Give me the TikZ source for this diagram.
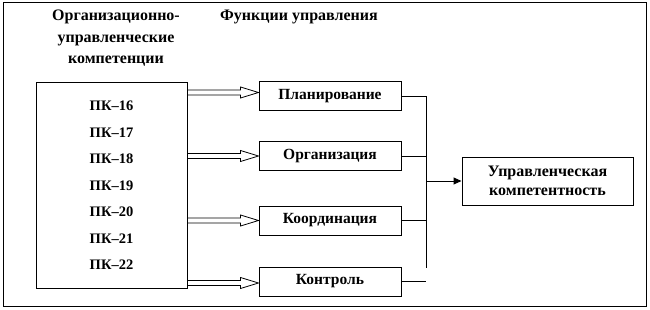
\documentclass[tikz,border=0pt]{standalone}
\usepackage{fontspec}
\setmainfont{Liberation Serif}[BoldFont={Liberation Serif Bold}]
\usetikzlibrary{positioning, calc, arrows.meta}

% hollow block arrow from #1 to #2 (same height)
\newcommand{\hollowarrow}[2]{%
  \draw[line width=0.8pt] let \p1=(#1), \p2=(#2) in
    (\x1,\y1+2.5pt) -- (\x2-18pt,\y1+2.5pt) -- (\x2-18pt,\y1+5.5pt) -- (\x2,\y1)
    -- (\x2-18pt,\y1-5.5pt) -- (\x2-18pt,\y1-2.5pt) -- (\x1,\y1-2.5pt);}

\begin{document}
\begin{tikzpicture}[
    x=1pt, y=-1pt,
    line width=1pt,
    box/.style={rectangle, draw, fill=white, inner sep=0pt, font=\bfseries\fontsize{15.5}{16}\selectfont},
    funcbox/.style={box, minimum width=142pt, minimum height=29pt},
    head/.style={font=\bfseries\fontsize{16}{21.5}\selectfont, align=center},
    line/.style={-, line width=1pt},
    arrow/.style={-{Triangle[length=8pt, width=7pt]}, line width=1pt}
]
\useasboundingbox (0,0) rectangle (650,310);
\draw (3,3) rectangle (646,306);

% Headings
\node[head] (hcomp) at (116,38.5) {Организационно-\\управленческие\\компетенции};
\node[head] (hfunc) at (299,17) {Функции управления};

% Competences
\node[box, minimum width=151pt, minimum height=205pt, align=center,
      font=\bfseries\fontsize{14.5}{26.5}\selectfont] (comp) at (111.5,185.5)
      {ПК–16\\ПК–17\\ПК–18\\ПК–19\\ПК–20\\ПК–21\\ПК–22};

% Management functions
\node[funcbox] (plan) at (330,96.5) {Планирование};
\node[funcbox, below=29.5pt of plan] (org) {Организация};
\node[funcbox, below=34.5pt of org] (coord) {Координация};
\node[funcbox, below=31pt of coord] (ctrl) {Контроль};

% Result
\node[box, minimum width=171pt, minimum height=48pt, align=center,
      font=\bfseries\fontsize{16}{19}\selectfont] (res) at (547.5,181)
      {Управленческая\\компетентность};

% Block arrows
\coordinate (a1) at ($(plan.west)+(0,-4)$);
\hollowarrow{comp.east |- a1}{a1}
\hollowarrow{comp.east |- org.west}{org.west}
\hollowarrow{comp.east |- coord.west}{coord.west}
\coordinate (a4) at ($(ctrl.west)+(0,1.5)$);
\hollowarrow{comp.east |- a4}{a4}

% Bus to result
\coordinate (bus) at (426,268);
\draw[line] (plan.east) -| (bus);
\draw[line] (org.east) -- (org.east -| bus);
\draw[line] (coord.east) -- (coord.east -| bus);
\draw[line] (ctrl.east) -- (ctrl.east -| bus);
\draw[arrow] (bus |- res.west) -- (res.west);

\end{tikzpicture}
\end{document}
